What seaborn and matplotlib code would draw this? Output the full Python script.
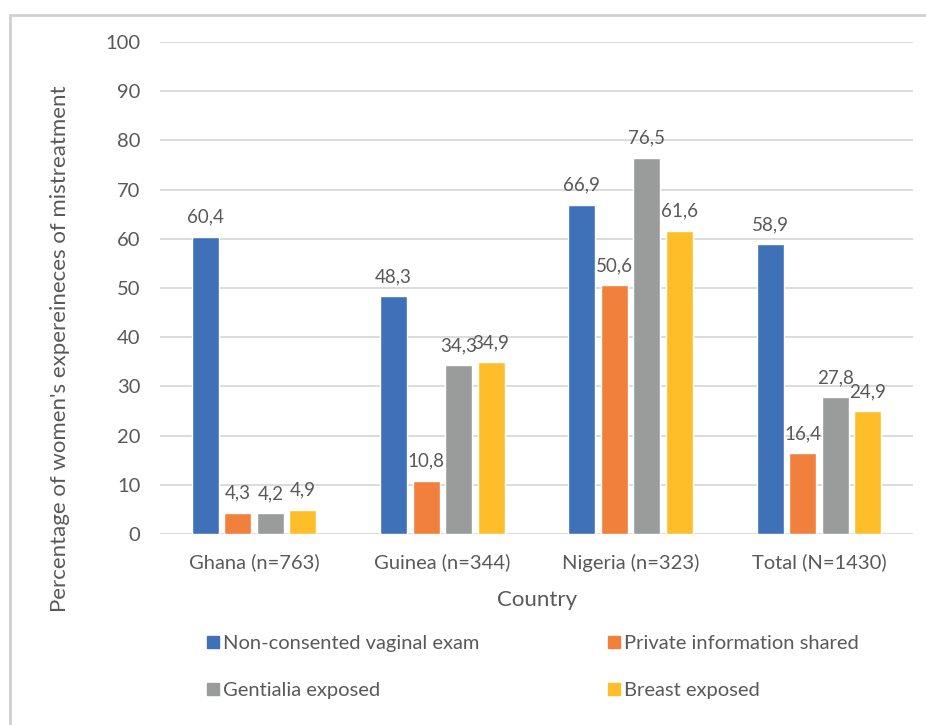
import matplotlib
matplotlib.use("Agg")
import matplotlib.pyplot as plt
from matplotlib.lines import Line2D
import seaborn as sns
import pandas as pd

# Mistreatment rates (%) by country and type
countries = ["Ghana (n=763)", "Guinea (n=344)", "Nigeria (n=323)", "Total (N=1430)"]
series_names = ["Non-consented vaginal exam", "Private information shared",
                "Gentialia exposed", "Breast exposed"]
vaginal_exam = [60.4, 48.3, 66.9, 58.9]
private_info = [4.3, 10.8, 50.6, 16.4]
genitalia = [4.2, 34.3, 76.5, 27.8]
breast = [4.9, 34.9, 61.6, 24.9]
y_ticks = list(range(0, 101, 10))

colors = ["#3F71B9", "#F0803C", "#9A9C9C", "#FDBE2A"]
text_color = "#595959"

rows = []
for name, vals in zip(series_names, [vaginal_exam, private_info, genitalia, breast]):
    for c, v in zip(countries, vals):
        rows.append({"Country": c, "Type": name, "Value": v})
df = pd.DataFrame(rows)

sns.set_theme(style="white")
plt.rcParams["font.family"] = ["Lato", "DejaVu Sans"]

fig = plt.figure(figsize=(9.26, 7.25), dpi=100)
ax = fig.add_axes([160 / 926, 1 - 534 / 725, (913 - 160) / 926, (534 - 42) / 725])

sns.barplot(data=df, x="Country", y="Value", hue="Type", hue_order=series_names,
            order=countries, palette=colors, width=0.69, gap=0.17,
            saturation=1, errorbar=None, legend=False, ax=ax, zorder=3)

# value labels with decimal comma
for container in ax.containers:
    labels = [f"{b.get_height():.1f}".replace(".", ",") for b in container]
    ax.bar_label(container, labels=labels, padding=8, fontsize=13.5, color=text_color)

ax.set_ylim(0, 100)
ax.set_yticks(y_ticks)
ax.set_xlim(-0.5, 3.5)
ax.yaxis.grid(True, color="#D9D9D9", linewidth=1.3, zorder=0)
ax.set_axisbelow(True)
for s in ax.spines.values():
    s.set_visible(False)
ax.tick_params(axis="both", length=0, labelsize=14.5, labelcolor=text_color)
ax.tick_params(axis="y", pad=14)
ax.tick_params(axis="x", pad=14)
ax.set_xlabel("")
ax.set_ylabel("")

fig.text(537 / 926, 1 - 600 / 725, "Country", ha="center", va="center",
         fontsize=16, color=text_color)
fig.text(60 / 926, 1 - 349 / 725, "Percentage of women's expereineces of mistreatment",
         ha="center", va="center", rotation=90, fontsize=16, color=text_color)

# legend filled row by row: two entries per row
handles = [Line2D([0], [0], marker="s", linestyle="none", markersize=9,
                  markerfacecolor=c, markeredgecolor=c) for c in colors]
order = [0, 2, 1, 3]
fig.legend([handles[i] for i in order], [series_names[i] for i in order],
           ncol=2, loc="upper left",
           bbox_to_anchor=(206 / 926, 1 - 635 / 725), frameon=False,
           fontsize=14.5, labelcolor=text_color, handletextpad=0.15,
           columnspacing=6.35, labelspacing=1.5, handlelength=0.7,
           borderaxespad=0, borderpad=0)

# light frame along top and left edges
fig.add_artist(Line2D([10 / 926, 1], [1 - 15 / 725, 1 - 15 / 725],
                      transform=fig.transFigure, color="#D0D0D0", linewidth=2))
fig.add_artist(Line2D([10 / 926, 10 / 926], [0, 1 - 15 / 725],
                      transform=fig.transFigure, color="#D0D0D0", linewidth=2))

fig.savefig("out.png", dpi=100, facecolor="white")
